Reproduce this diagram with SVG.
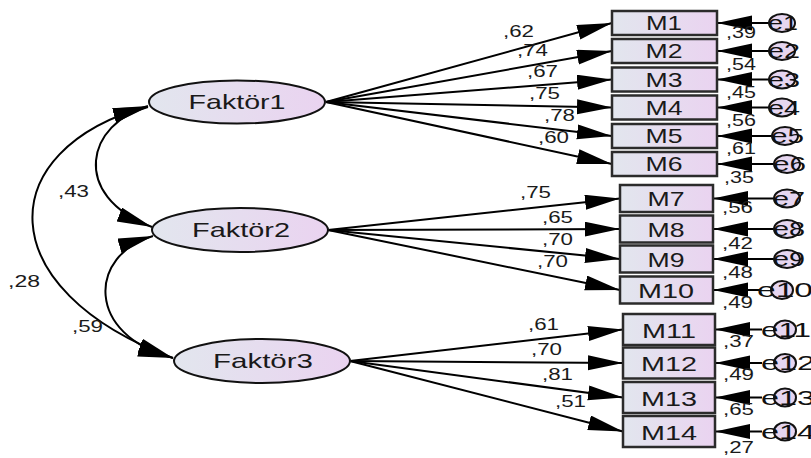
<svg xmlns="http://www.w3.org/2000/svg" width="811" height="458" viewBox="0 0 811 458">
  <style>
    .lat { stroke: #111; stroke-width: 2; fill: url(#fillGrad); }
    .obs { stroke: #2b2b2b; stroke-width: 2.5; fill: url(#fillGrad); }
    .err { stroke: #111; stroke-width: 2; fill: #e6d6f0; }
    .path { stroke: #000; stroke-width: 2; fill: none; marker-end: url(#head); }
    .cov { stroke: #000; stroke-width: 2; fill: none; marker-start: url(#head); marker-end: url(#head); }
    text { font-family: "Liberation Sans", Arial, sans-serif; fill: #1a1a1a; }
    .big { font-size: 21px; text-anchor: middle; }
    .num { font-size: 17px; }
    .elab { font-size: 21px; fill: #111; }
  </style>
  <defs>
    <linearGradient id="fillGrad" x1="0" y1="0" x2="1" y2="0">
      <stop offset="0" stop-color="#e2e6ee"/>
      <stop offset="1" stop-color="#ead3f0"/>
    </linearGradient>
    <marker id="head" markerUnits="userSpaceOnUse" markerWidth="37" markerHeight="16" refX="35" refY="7.5" orient="auto-start-reverse">
      <path d="M0,0 L35,7.5 L0,15 z" fill="#000"/>
    </marker>
  </defs>

  <!-- connectors -->
  <g id="connectors">
    <!-- covariances -->
    <path class="cov" d="M148,107 C88,122 68,195 152,227"/>
    <path class="cov" d="M153,236 C88,255 85,335 173,358"/>
    <path class="cov" d="M148,106 C-10,150 -10,290 173,358"/>
    <!-- loadings of Faktör1 -->
    <line class="path" x1="326" y1="102" x2="612" y2="23"/>
    <line class="path" x1="326" y1="102" x2="612" y2="51"/>
    <line class="path" x1="326" y1="102" x2="612" y2="79.5"/>
    <line class="path" x1="326" y1="102" x2="612" y2="107.5"/>
    <line class="path" x1="326" y1="102" x2="612" y2="136"/>
    <line class="path" x1="326" y1="102" x2="612" y2="164"/>
    <!-- loadings of Faktör2 -->
    <line class="path" x1="328" y1="230" x2="620" y2="198.5"/>
    <line class="path" x1="328" y1="230" x2="620" y2="229"/>
    <line class="path" x1="328" y1="230" x2="620" y2="259"/>
    <line class="path" x1="328" y1="230" x2="620" y2="290"/>
    <!-- loadings of Faktör3 -->
    <line class="path" x1="350" y1="361" x2="623" y2="329.5"/>
    <line class="path" x1="350" y1="361" x2="623" y2="363"/>
    <line class="path" x1="350" y1="361" x2="623" y2="397.5"/>
    <line class="path" x1="350" y1="361" x2="623" y2="431.5"/>
    <!-- error terms -->
    <line class="path" x1="770" y1="23" x2="717" y2="23"/>
    <line class="path" x1="770" y1="51" x2="717" y2="51"/>
    <line class="path" x1="770" y1="79.5" x2="717" y2="79.5"/>
    <line class="path" x1="770" y1="107.5" x2="717" y2="107.5"/>
    <line class="path" x1="772" y1="136" x2="717" y2="136"/>
    <line class="path" x1="774" y1="164" x2="717" y2="164"/>
    <line class="path" x1="774" y1="198.5" x2="713" y2="198.5"/>
    <line class="path" x1="774" y1="229" x2="713" y2="229"/>
    <line class="path" x1="774" y1="259" x2="713" y2="259"/>
    <line class="path" x1="760" y1="290" x2="713" y2="290"/>
    <line class="path" x1="762" y1="329.5" x2="715" y2="329.5"/>
    <line class="path" x1="762" y1="363" x2="715" y2="363"/>
    <line class="path" x1="762" y1="397.5" x2="715" y2="397.5"/>
    <line class="path" x1="762" y1="431.5" x2="715" y2="431.5"/>
  </g>

  <!-- coefficient labels -->
  <g id="estimates">
    <text class="num" x="58" y="197" textLength="31" lengthAdjust="spacingAndGlyphs">,43</text>
    <text class="num" x="8" y="287" textLength="32" lengthAdjust="spacingAndGlyphs">,28</text>
    <text class="num" x="72" y="332" textLength="31" lengthAdjust="spacingAndGlyphs">,59</text>

    <text class="num" x="503" y="37" textLength="31" lengthAdjust="spacingAndGlyphs">,62</text>
    <text class="num" x="517" y="56" textLength="31" lengthAdjust="spacingAndGlyphs">,74</text>
    <text class="num" x="527" y="77" textLength="31" lengthAdjust="spacingAndGlyphs">,67</text>
    <text class="num" x="529" y="99" textLength="31" lengthAdjust="spacingAndGlyphs">,75</text>
    <text class="num" x="544" y="121" textLength="31" lengthAdjust="spacingAndGlyphs">,78</text>
    <text class="num" x="538" y="143" textLength="31" lengthAdjust="spacingAndGlyphs">,60</text>

    <text class="num" x="520" y="198" textLength="31" lengthAdjust="spacingAndGlyphs">,75</text>
    <text class="num" x="542" y="223" textLength="31" lengthAdjust="spacingAndGlyphs">,65</text>
    <text class="num" x="542" y="245" textLength="31" lengthAdjust="spacingAndGlyphs">,70</text>
    <text class="num" x="537" y="267" textLength="31" lengthAdjust="spacingAndGlyphs">,70</text>

    <text class="num" x="528" y="330" textLength="31" lengthAdjust="spacingAndGlyphs">,61</text>
    <text class="num" x="531" y="355" textLength="31" lengthAdjust="spacingAndGlyphs">,70</text>
    <text class="num" x="542" y="380" textLength="31" lengthAdjust="spacingAndGlyphs">,81</text>
    <text class="num" x="555" y="407" textLength="31" lengthAdjust="spacingAndGlyphs">,51</text>

    <text class="num" x="726" y="38" textLength="30" lengthAdjust="spacingAndGlyphs">,39</text>
    <text class="num" x="726" y="70" textLength="30" lengthAdjust="spacingAndGlyphs">,54</text>
    <text class="num" x="726" y="98" textLength="30" lengthAdjust="spacingAndGlyphs">,45</text>
    <text class="num" x="726" y="126" textLength="30" lengthAdjust="spacingAndGlyphs">,56</text>
    <text class="num" x="726" y="154" textLength="30" lengthAdjust="spacingAndGlyphs">,61</text>
    <text class="num" x="724" y="183" textLength="30" lengthAdjust="spacingAndGlyphs">,35</text>
    <text class="num" x="722" y="213" textLength="31" lengthAdjust="spacingAndGlyphs">,56</text>
    <text class="num" x="722" y="249" textLength="31" lengthAdjust="spacingAndGlyphs">,42</text>
    <text class="num" x="722" y="278" textLength="31" lengthAdjust="spacingAndGlyphs">,48</text>
    <text class="num" x="722" y="308" textLength="31" lengthAdjust="spacingAndGlyphs">,49</text>
    <text class="num" x="723" y="347" textLength="31" lengthAdjust="spacingAndGlyphs">,37</text>
    <text class="num" x="723" y="380" textLength="31" lengthAdjust="spacingAndGlyphs">,49</text>
    <text class="num" x="723" y="415" textLength="31" lengthAdjust="spacingAndGlyphs">,65</text>
    <text class="num" x="723" y="453" textLength="31" lengthAdjust="spacingAndGlyphs">,27</text>
  </g>

  <!-- latent factors -->
  <g id="faktor1">
    <ellipse class="lat" cx="237" cy="102" rx="88" ry="21.5"/>
    <text class="big" x="237" y="109" textLength="97" lengthAdjust="spacingAndGlyphs">Faktör1</text>
  </g>
  <g id="faktor2">
    <ellipse class="lat" cx="240" cy="230" rx="88" ry="22"/>
    <text class="big" x="241" y="237" textLength="98" lengthAdjust="spacingAndGlyphs">Faktör2</text>
  </g>
  <g id="faktor3">
    <ellipse class="lat" cx="262" cy="361" rx="88" ry="22"/>
    <text class="big" x="263" y="368" textLength="100" lengthAdjust="spacingAndGlyphs">Faktör3</text>
  </g>

  <!-- observed items -->
  <g id="m1"><rect class="obs" x="612" y="11" width="105" height="24"/><text class="big" x="664" y="30" textLength="36" lengthAdjust="spacingAndGlyphs">M1</text></g>
  <g id="m2"><rect class="obs" x="612" y="39" width="105" height="24"/><text class="big" x="664" y="58" textLength="37" lengthAdjust="spacingAndGlyphs">M2</text></g>
  <g id="m3"><rect class="obs" x="612" y="67.5" width="105" height="24"/><text class="big" x="664" y="86.5" textLength="37" lengthAdjust="spacingAndGlyphs">M3</text></g>
  <g id="m4"><rect class="obs" x="612" y="95.5" width="105" height="24"/><text class="big" x="664" y="114.5" textLength="37" lengthAdjust="spacingAndGlyphs">M4</text></g>
  <g id="m5"><rect class="obs" x="612" y="124" width="105" height="24"/><text class="big" x="664" y="143" textLength="37" lengthAdjust="spacingAndGlyphs">M5</text></g>
  <g id="m6"><rect class="obs" x="612" y="152" width="105" height="24"/><text class="big" x="664" y="171" textLength="37" lengthAdjust="spacingAndGlyphs">M6</text></g>
  <g id="m7"><rect class="obs" x="620" y="185" width="93" height="27"/><text class="big" x="666" y="206" textLength="37" lengthAdjust="spacingAndGlyphs">M7</text></g>
  <g id="m8"><rect class="obs" x="620" y="215.5" width="93" height="27"/><text class="big" x="666" y="236.5" textLength="37" lengthAdjust="spacingAndGlyphs">M8</text></g>
  <g id="m9"><rect class="obs" x="620" y="245.5" width="93" height="27"/><text class="big" x="666" y="266.5" textLength="37" lengthAdjust="spacingAndGlyphs">M9</text></g>
  <g id="m10"><rect class="obs" x="620" y="276.5" width="93" height="27"/><text class="big" x="666" y="297.5" textLength="56" lengthAdjust="spacingAndGlyphs">M10</text></g>
  <g id="m11"><rect class="obs" x="623" y="314" width="92" height="31"/><text class="big" x="669" y="337.5" textLength="54" lengthAdjust="spacingAndGlyphs">M11</text></g>
  <g id="m12"><rect class="obs" x="623" y="347.5" width="92" height="31"/><text class="big" x="669" y="371" textLength="56" lengthAdjust="spacingAndGlyphs">M12</text></g>
  <g id="m13"><rect class="obs" x="623" y="382" width="92" height="31"/><text class="big" x="669" y="405.5" textLength="56" lengthAdjust="spacingAndGlyphs">M13</text></g>
  <g id="m14"><rect class="obs" x="623" y="416" width="92" height="31"/><text class="big" x="669" y="439.5" textLength="56" lengthAdjust="spacingAndGlyphs">M14</text></g>

  <!-- error terms -->
  <g id="e1"><ellipse class="err" cx="782" cy="23" rx="13" ry="9"/><text class="elab" x="768" y="30" textLength="30" lengthAdjust="spacingAndGlyphs">e1</text></g>
  <g id="e2"><ellipse class="err" cx="782" cy="51" rx="13" ry="9"/><text class="elab" x="768" y="58" textLength="32" lengthAdjust="spacingAndGlyphs">e2</text></g>
  <g id="e3"><ellipse class="err" cx="782" cy="79.5" rx="13" ry="9"/><text class="elab" x="768" y="86.5" textLength="32" lengthAdjust="spacingAndGlyphs">e3</text></g>
  <g id="e4"><ellipse class="err" cx="782" cy="107.5" rx="13" ry="9"/><text class="elab" x="768" y="114.5" textLength="32" lengthAdjust="spacingAndGlyphs">e4</text></g>
  <g id="e5"><ellipse class="err" cx="785" cy="136" rx="13" ry="9"/><text class="elab" x="771" y="143" textLength="33" lengthAdjust="spacingAndGlyphs">e5</text></g>
  <g id="e6"><ellipse class="err" cx="787" cy="164" rx="13" ry="9"/><text class="elab" x="773" y="171" textLength="33" lengthAdjust="spacingAndGlyphs">e6</text></g>
  <g id="e7"><ellipse class="err" cx="787" cy="198.5" rx="13" ry="9"/><text class="elab" x="773" y="205.5" textLength="32" lengthAdjust="spacingAndGlyphs">e7</text></g>
  <g id="e8"><ellipse class="err" cx="787" cy="229" rx="13" ry="9"/><text class="elab" x="773" y="236" textLength="32" lengthAdjust="spacingAndGlyphs">e8</text></g>
  <g id="e9"><ellipse class="err" cx="787" cy="259" rx="13" ry="9"/><text class="elab" x="773" y="266" textLength="32" lengthAdjust="spacingAndGlyphs">e9</text></g>
  <g id="e10"><ellipse class="err" cx="782" cy="290" rx="11" ry="9"/><text class="elab" x="757" y="297" textLength="56" lengthAdjust="spacingAndGlyphs">e10</text></g>
  <g id="e11"><ellipse class="err" cx="785" cy="329.5" rx="11" ry="9"/><text class="elab" x="761" y="336.5" textLength="50" lengthAdjust="spacingAndGlyphs">e11</text></g>
  <g id="e12"><ellipse class="err" cx="785" cy="363" rx="11" ry="9"/><text class="elab" x="761" y="370" textLength="54" lengthAdjust="spacingAndGlyphs">e12</text></g>
  <g id="e13"><ellipse class="err" cx="785" cy="397.5" rx="11" ry="9"/><text class="elab" x="761" y="404.5" textLength="54" lengthAdjust="spacingAndGlyphs">e13</text></g>
  <g id="e14"><ellipse class="err" cx="785" cy="431.5" rx="11" ry="9"/><text class="elab" x="761" y="438.5" textLength="54" lengthAdjust="spacingAndGlyphs">e14</text></g>
</svg>
